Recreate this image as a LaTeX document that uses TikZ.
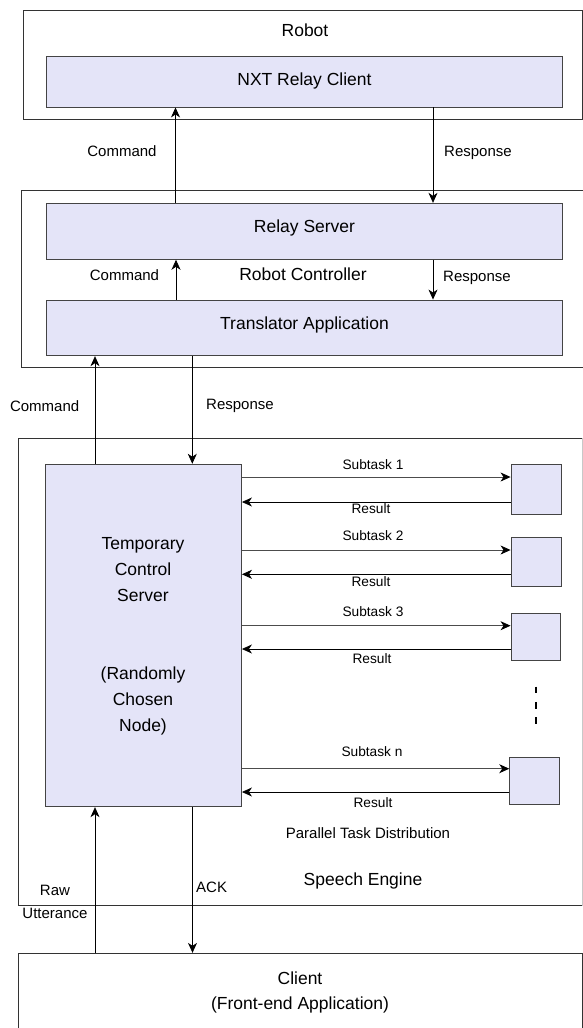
\documentclass[tikz,border=0pt]{standalone}
\usepackage{fontspec}
\setmainfont{Liberation Sans}
\usetikzlibrary{arrows.meta}

\definecolor{boxfill}{RGB}{228,228,248}
\definecolor{edge}{RGB}{51,51,51}
\definecolor{inedge}{RGB}{68,68,68}
\definecolor{faint}{RGB}{200,200,200}

\tikzset{
  frame/.style={draw=edge, line width=0.9pt, fill=white, rectangle, inner sep=0pt},
  block/.style={draw=inedge, line width=0.9pt, fill=boxfill, rectangle, inner sep=0pt},
  big/.style={font=\fontsize{17.5}{26}\selectfont, inner sep=0pt, text height=0.72em, text depth=0pt},
  bigml/.style={font=\fontsize{17.5}{26}\selectfont, inner sep=0pt, align=center},
  mid/.style={font=\fontsize{15}{18}\selectfont, inner sep=0pt, text height=0.72em, text depth=0pt},
  small/.style={font=\fontsize{13.7}{16}\selectfont, inner sep=0pt, text height=0.72em, text depth=0pt},
  flow/.style={line width=0.8pt, draw=black, -{Stealth[length=10pt, width=9pt, inset=3pt]}},
  task/.style={line width=0.8pt, draw=black!70, -{Stealth[length=10pt, width=9pt, inset=3pt, color=black, fill=black]}},
}

\begin{document}
\begin{tikzpicture}[x=1pt, y=-1pt]
\useasboundingbox (0,0) rectangle (583,1028);

% outer containers
\node[frame, minimum width=559pt, minimum height=108.3pt] (robot) at (302.5,65) {};
\node[frame, minimum width=568.5pt, minimum height=176.6pt] (rc) at (305.75,279) {};
\node[frame, minimum width=564pt, minimum height=466.6pt] (se) at (300,672) {};
\node[frame, minimum width=564pt, minimum height=90pt] (client) at (300,998.3) {};
\draw[faint, line width=0.9pt] (se.north east) -- (se.south east);

% inner components
\node[block, minimum width=516pt, minimum height=51pt] (nxt) at (304.5,81.5) {};
\node[block, minimum width=515.2pt, minimum height=56pt] (relay) at (304.4,231.3) {};
\node[block, minimum width=515.2pt, minimum height=55.7pt] (trans) at (304.4,327.85) {};
\node[block, minimum width=195.9pt, minimum height=342.5pt] (tcs) at (143.55,635.45) {};
\node[block, minimum width=50pt, minimum height=50.3pt] (w1) at (536,489.15) {};
\node[block, minimum width=50pt, minimum height=48.3pt] (w2) at (536,561.85) {};
\node[block, minimum width=49.7pt, minimum height=47pt] (w3) at (535.85,637.2) {};
\node[block, minimum width=49.3pt, minimum height=47pt] (wn) at (534.35,780.8) {};

% texts of the boxes
\node[big] (trobot) at (305,33) {Robot};
\node[big] (tnxt) at (304.5,81.5) {NXT Relay Client};
\node[big] (trelay) at (304.5,229) {Relay Server};
\node[big] (trc) at (303,277) {Robot Controller};
\node[big] (ttrans) at (304.5,326) {Translator Application};
\node[bigml] (ttcs) at (143,636) {Temporary\\Control\\Server\\[26pt]\\(Randomly\\Chosen\\Node)};
\node[big] (tse) at (363,881.7) {Speech Engine};
\node[bigml, font=\fontsize{17.5}{25}\selectfont] (tcl) at (300,992.7) {Client\\(Front-end Application)};

% robot <-> relay server
\draw[flow] (relay.north -| 175.5,0) -- (nxt.south -| 175.5,0);
\draw[flow] (nxt.south -| 433,0) -- (relay.north -| 433,0);
\node[mid] (lc1) at (122,153) {Command};
\node[mid] (lr1) at (478,153) {Response};

% inside the robot controller
\draw[flow] (trans.north -| 176,0) -- (relay.south -| 176,0);
\draw[flow] (relay.south -| 433,0) -- (trans.north -| 433,0);
\node[mid] (lc2) at (124.5,277) {Command};
\node[mid] (lr2) at (477,278) {Response};

% translator <-> temporary control server
\draw[flow] (tcs.north -| 95,0) -- (trans.south -| 95,0);
\draw[flow] (trans.south -| 192.3,0) -- (tcs.north -| 192.3,0);
\node[mid] (lc3) at (44.6,408) {Command};
\node[mid] (lr3) at (240,406) {Response};

% parallel subtasks
\draw[task] (tcs.east |- 0,477) -- (w1.west |- 0,477);
\draw[flow] (w1.west |- 0,502) -- (tcs.east |- 0,502);
\draw[task] (tcs.east |- 0,550) -- (w2.west |- 0,550);
\draw[flow] (w2.west |- 0,574.3) -- (tcs.east |- 0,574.3);
\draw[task] (tcs.east |- 0,625.7) -- (w3.west |- 0,625.7);
\draw[flow] (w3.west |- 0,649) -- (tcs.east |- 0,649);
\draw[task] (tcs.east |- 0,768.7) -- (wn.west |- 0,768.7);
\draw[flow] (wn.west |- 0,792) -- (tcs.east |- 0,792);
\node[small] (ls1) at (373,466) {Subtask 1};
\node[small] (lq1) at (371,510) {Result};
\node[small] (ls2) at (373,537) {Subtask 2};
\node[small] (lq2) at (371,582.7) {Result};
\node[small] (ls3) at (373,612.7) {Subtask 3};
\node[small] (lq3) at (372,660) {Result};
\node[small] (lsn) at (372,753.3) {Subtask n};
\node[small] (lqn) at (373,804) {Result};
\coordinate (dtop) at (535.7,686.7);
\coordinate (dbot) at (535.7,725.5);
\draw[line width=1.8pt, dash pattern=on 6.6pt off 8.6pt] (dtop) -- (dbot);
\node[mid] (lptd) at (368,834.7) {Parallel Task Distribution};

% client <-> temporary control server
\draw[flow] (client.north -| 95,0) -- (tcs.south -| 95,0);
\draw[flow] (tcs.south -| 192.5,0) -- (client.north -| 192.5,0);
\node[mid] (lraw) at (55,892) {Raw};
\node[mid] (lutt) at (55,915) {Utterance};
\node[mid, anchor=west] (lack) at (196,889) {ACK};
\end{tikzpicture}
\end{document}
